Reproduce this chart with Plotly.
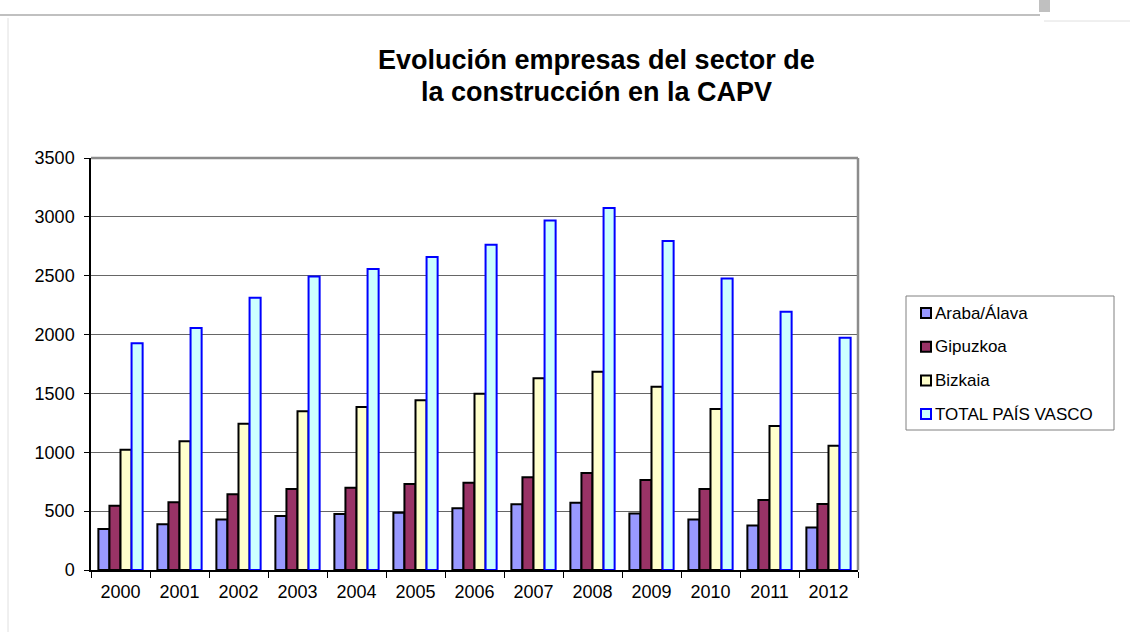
import plotly.graph_objects as go

years = ["2000", "2001", "2002", "2003", "2004", "2005", "2006",
         "2007", "2008", "2009", "2010", "2011", "2012"]
araba = [348, 388, 428, 459, 476, 487, 524, 558, 572, 479, 428, 379, 362]
gipuzkoa = [546, 575, 643, 688, 699, 731, 742, 787, 824, 765, 688, 595, 561]
bizkaia = [1022, 1093, 1243, 1348, 1385, 1441, 1498, 1628, 1685, 1557, 1368, 1223, 1056]
total = [1926, 2055, 2313, 2493, 2558, 2660, 2763, 2968, 3076, 2795, 2476, 2193, 1972]
y_ticks = [0, 500, 1000, 1500, 2000, 2500, 3000, 3500]
title_lines = ["Evolución empresas del sector de", "la construcción en la CAPV"]

series = [
    ("Araba/Álava", araba, "#9999FF", "#000000"),
    ("Gipuzkoa", gipuzkoa, "#993366", "#000000"),
    ("Bizkaia", bizkaia, "#FFFFCC", "#000000"),
    ("TOTAL PAÍS VASCO", total, "#CCFFFF", "#0000FF"),
]

FONT = "Liberation Sans, Arial, sans-serif"

fig = go.Figure()
for i, (name, vals, fill, edge) in enumerate(series):
    fig.add_trace(go.Bar(
        x=years, y=vals, name=name, showlegend=False,
        marker=dict(color=fill, line=dict(color=edge, width=2)),
    ))

W, H = 1130, 632
L, R, T, B = 91, 858, 158, 570

fig.update_layout(
    width=W, height=H,
    margin=dict(l=L, r=W - R, t=T, b=H - B, pad=0),
    paper_bgcolor="white", plot_bgcolor="white",
    barmode="group", bargap=0.25, bargroupgap=0,
    font=dict(family=FONT, size=18, color="black"),
    showlegend=False,
    xaxis=dict(
        type="category", showgrid=False, showline=True, linecolor="black",
        linewidth=1.5, ticks="outside", tickson="boundaries", ticklen=6,
        tickcolor="black", tickfont=dict(size=18), ticklabelstandoff=5,
    ),
    yaxis=dict(
        range=[0, 3500], tickvals=y_ticks, showgrid=True, gridcolor="#666666",
        gridwidth=1, showline=True, linecolor="black", linewidth=1.5,
        ticks="outside", ticklen=5, tickcolor="black", tickfont=dict(size=18),
        zeroline=False, ticklabelstandoff=6,
    ),
)


def px(xp):
    return (xp - L) / (R - L)


def py(yp):
    return 1 - (yp - T) / (B - T)


# plot area border (top and right gray)
fig.add_shape(type="line", xref="paper", yref="paper", x0=0, x1=1, y0=1, y1=1,
              line=dict(color="#8c8c8c", width=2.5))
fig.add_shape(type="line", xref="paper", yref="paper", x0=1, x1=1, y0=0, y1=1,
              line=dict(color="#8c8c8c", width=2.5))

# outer frame decorations from the document screenshot
fig.add_shape(type="line", xref="paper", yref="paper", x0=px(0), x1=px(1040),
              y0=py(15), y1=py(15), line=dict(color="#c0c0c0", width=2))
fig.add_shape(type="rect", xref="paper", yref="paper", x0=px(1039), x1=px(1050),
              y0=py(0), y1=py(12), line=dict(width=0), fillcolor="#c0c0c0")
fig.add_shape(type="line", xref="paper", yref="paper", x0=px(1044), x1=px(1130),
              y0=py(21), y1=py(21), line=dict(color="#e0e0e0", width=1))
fig.add_shape(type="line", xref="paper", yref="paper", x0=px(8), x1=px(8),
              y0=py(18), y1=py(632), line=dict(color="#e0e0e0", width=1))

# title (two lines)
for line_text, yc in zip(title_lines, [60, 92]):
    fig.add_annotation(
        text="<b>" + line_text + "</b>",
        xref="paper", yref="paper", x=px(596), y=py(yc), xanchor="center",
        yanchor="middle", showarrow=False,
        font=dict(size=27, color="black", family=FONT),
    )

# legend box
fig.add_shape(type="rect", xref="paper", yref="paper", x0=px(906), x1=px(1114),
              y0=py(296), y1=py(430), line=dict(color="#808080", width=1),
              fillcolor="white", layer="above")
for i, (name, vals, fill, edge) in enumerate(series):
    yc = 313 + 33.7 * i
    fig.add_shape(type="rect", xref="paper", yref="paper", x0=px(921), x1=px(931),
                  y0=py(yc - 5), y1=py(yc + 5), line=dict(color=edge, width=2),
                  fillcolor=fill, layer="above")
    fig.add_annotation(
        text=name, xref="paper", yref="paper", x=px(933), y=py(yc),
        xanchor="left", yanchor="middle", showarrow=False,
        font=dict(size=17, color="black", family=FONT),
    )

fig.write_html("out.html", config={"displayModeBar": False},
               post_script="document.body.style.margin='0px';")
